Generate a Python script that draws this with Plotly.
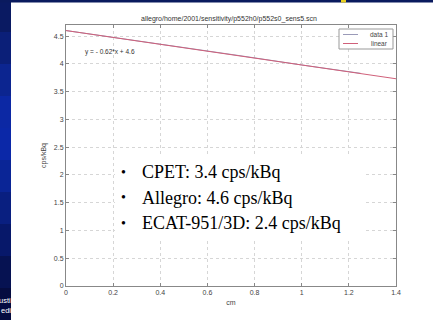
import plotly.graph_objects as go

# ---- data ----
data_x = [0.0, 0.25, 0.5, 0.75, 1.0, 1.25]
data_y = [4.60, 4.45, 4.29, 4.14, 3.98, 3.83]
fit_x = [0.0, 1.4]
slope, intercept = -0.62, 4.6
fit_y = [slope * x + intercept for x in fit_x]
x_ticks = [0, 0.2, 0.4, 0.6, 0.8, 1, 1.2, 1.4]
y_ticks = [0, 0.5, 1, 1.5, 2, 2.5, 3, 3.5, 4, 4.5]
bullets = ["CPET: 3.4 cps/kBq", "Allegro: 4.6 cps/kBq", "ECAT-951/3D: 2.4 cps/kBq"]
series_names = ["data 1", "linear"]
series_colors = ["#9a9ab8", "#d0607a"]
title = "allegro/home/2001/sensitivity/p552h0/p552s0_sens5.scn"

W, H = 433, 320
ML, MR, MT, MB = 66, 37, 25, 34
PW, PH = W - ML - MR, H - MT - MB

def px(x):
    return (x - ML) / PW

def py(y):
    return 1 - (y - MT) / PH

fig = go.Figure()
fig.add_trace(go.Scatter(x=data_x, y=data_y, mode="lines", name=series_names[0],
                         line=dict(color=series_colors[0], width=1)))
fig.add_trace(go.Scatter(x=fit_x, y=fit_y, mode="lines", name=series_names[1],
                         line=dict(color=series_colors[1], width=1)))

shapes = []
# blue slide background (left strip gradient + top band)
blues = ["#0a1a62", "#0b1f78", "#0c2590", "#0c28a4", "#0b28a8", "#0a2596", "#091f80", "#07186a", "#061252", "#050c40"]
n = len(blues)
for i, c in enumerate(blues):
    y0 = H * i / n
    y1 = H * (i + 1) / n
    shapes.append(dict(type="rect", xref="paper", yref="paper", x0=px(0), x1=px(11),
                       y0=py(y1), y1=py(y0), fillcolor=c, line_width=0, layer="below"))
shapes.append(dict(type="rect", xref="paper", yref="paper", x0=px(0), x1=px(W),
                   y0=py(2.5), y1=py(0), fillcolor="#0a1a5e", line_width=0, layer="below"))
shapes.append(dict(type="rect", xref="paper", yref="paper", x0=px(341), x1=px(346),
                   y0=py(2.5), y1=py(0), fillcolor="#e8d020", line_width=0, layer="below"))
# white text box over the chart
shapes.append(dict(type="rect", xref="paper", yref="paper", x0=px(115), x1=px(365),
                   y0=py(240), y1=py(155), fillcolor="white", line_width=0, layer="above"))
# compact legend box
shapes.append(dict(type="rect", xref="paper", yref="paper", x0=px(339), x1=px(393),
                   y0=py(49), y1=py(29), fillcolor="white", line=dict(color="#999", width=1), layer="above"))

annotations = []
for i, (nm, c) in enumerate(zip(series_names, series_colors)):
    yy = 34.5 + i * 9
    shapes.append(dict(type="line", xref="paper", yref="paper", x0=px(343), x1=px(358),
                       y0=py(yy), y1=py(yy), line=dict(color=c, width=1), layer="above"))
    annotations.append(dict(text=nm, xref="paper", yref="paper", x=px(390), y=py(yy),
                            showarrow=False, font=dict(size=6.5, color="#444"),
                            xanchor="right", yanchor="middle"))

annotations.append(dict(text=title, xref="paper", yref="paper", x=px(229), y=py(19),
                        showarrow=False, font=dict(size=7, color="#333"), xanchor="center", yanchor="middle"))
annotations.append(dict(text="y = - 0.62*x + 4.6", xref="paper", yref="paper", x=px(83), y=py(52),
                        showarrow=False, font=dict(size=6.5, color="#333"), xanchor="left", yanchor="middle"))
for i, b in enumerate(bullets):
    yy = 172 + i * 25.5
    annotations.append(dict(text="•", xref="paper", yref="paper", x=px(123), y=py(yy),
                            showarrow=False, font=dict(size=14, color="black", family="Liberation Serif"),
                            xanchor="center", yanchor="middle"))
    annotations.append(dict(text=b, xref="paper", yref="paper", x=px(140), y=py(yy),
                            showarrow=False, font=dict(size=18, color="black", family="Liberation Serif"),
                            xanchor="left", yanchor="middle"))
for i, t in enumerate(["usti", "edi"]):
    annotations.append(dict(text=t, xref="paper", yref="paper", x=px(11.5), y=py(300 + i * 10),
                            showarrow=False, font=dict(size=7.5, color="white", family="Liberation Sans"),
                            xanchor="right", yanchor="middle", borderpad=0))

fig.update_layout(
    width=W, height=H,
    margin=dict(l=ML, r=MR, t=MT, b=MB),
    paper_bgcolor="white", plot_bgcolor="white",
    font=dict(family="Liberation Sans", size=7, color="#444"),
    showlegend=False,
    xaxis=dict(range=[0, 1.4], tickvals=x_ticks, ticktext=[f"{v:g}" for v in x_ticks],
               showgrid=True, gridcolor="#d6d6d6", griddash="dot", zeroline=False,
               showline=True, linecolor="#888", mirror="ticks", ticks="inside", ticklen=3,
               tickcolor="#888", title=dict(text="cm", font=dict(size=7, color="#444"), standoff=4)),
    yaxis=dict(range=[0, 4.7], tickvals=y_ticks, ticktext=[f"{v:g}" for v in y_ticks],
               showgrid=True, gridcolor="#d6d6d6", griddash="dot", zeroline=False,
               showline=True, linecolor="#888", mirror="ticks", ticks="inside", ticklen=3,
               tickcolor="#888", title=dict(text="cps/kBq", font=dict(size=7, color="#444"), standoff=6)),
    shapes=shapes,
    annotations=annotations,
)

fig.write_html("out.html")
